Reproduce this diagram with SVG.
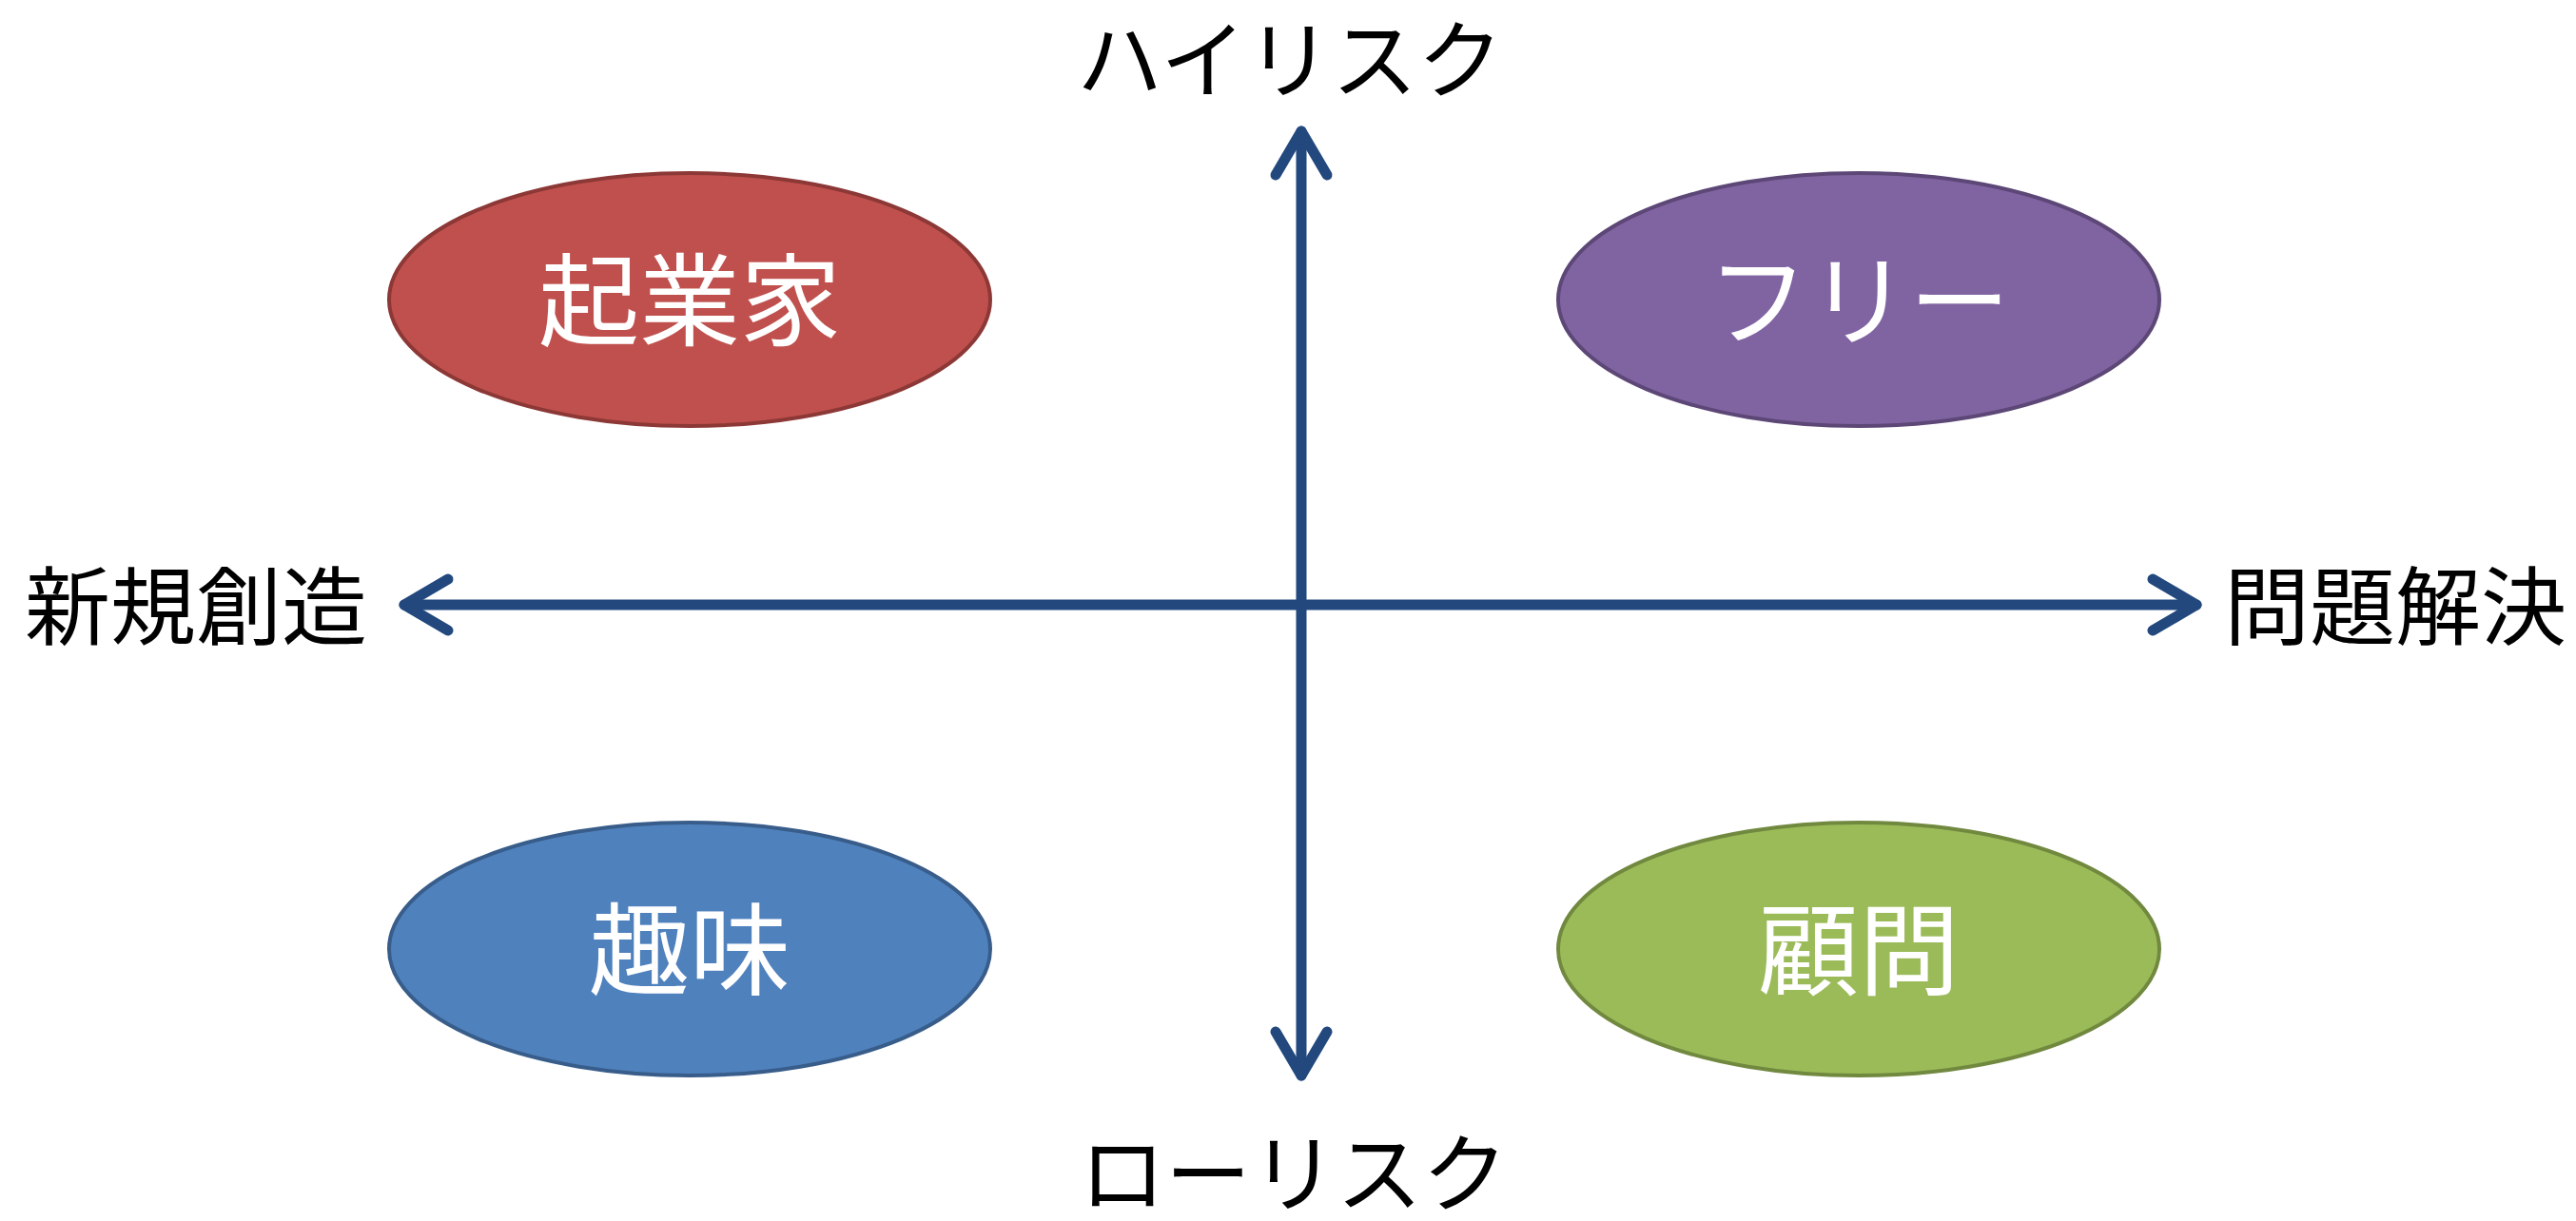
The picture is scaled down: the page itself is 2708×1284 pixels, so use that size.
<svg xmlns="http://www.w3.org/2000/svg" width="2708" height="1284" viewBox="0 0 2708 1284">
<style>
.lbl{font-family:"Noto Sans CJK JP","Noto Sans",sans-serif;font-size:90px;fill:#000;font-weight:400}
.in{font-family:"Noto Sans CJK JP","Noto Sans",sans-serif;font-size:106px;fill:#fff;text-anchor:middle;font-weight:400}
.ax{stroke:#22487E;stroke-width:11;fill:none;stroke-linecap:round;stroke-linejoin:round}
</style>
<rect width="2708" height="1284" fill="#fff"/>
<g id="n-kigyouka"><ellipse cx="725" cy="315" rx="316" ry="133" fill="#C0504D" stroke="#8C3836" stroke-width="4"/><text class="in" x="725" y="355">起業家</text></g>
<g id="n-free"><ellipse cx="1954" cy="315" rx="316" ry="133" fill="#8064A2" stroke="#5C4776" stroke-width="4"/><text class="in" x="1954" y="355">フリー</text></g>
<g id="n-shumi"><ellipse cx="725" cy="998" rx="316" ry="133" fill="#4F81BD" stroke="#385D8A" stroke-width="4"/><text class="in" x="725" y="1038">趣味</text></g>
<g id="n-komon"><ellipse cx="1954" cy="998" rx="316" ry="133" fill="#9BBB59" stroke="#71893F" stroke-width="4"/><text class="in" x="1954" y="1038">顧問</text></g>
<g id="connectors">
<path class="ax" d="M1368 138 L1368 1131"/>
<path class="ax" d="M1341 184 L1368 138 L1395 184"/>
<path class="ax" d="M1341 1085 L1368 1131 L1395 1085"/>
<path class="ax" d="M425 636 L2309 636"/>
<path class="ax" d="M471 609 L425 636 L471 663"/>
<path class="ax" d="M2263 609 L2309 636 L2263 663"/>
</g>
<g id="labels">
<text class="lbl" x="1356" y="96" text-anchor="middle">ハイリスク</text>
<text class="lbl" x="1360" y="1267" text-anchor="middle">ローリスク</text>
<text class="lbl" x="26" y="671">新規創造</text>
<text class="lbl" x="2338" y="671">問題解決</text>
</g>
</svg>
